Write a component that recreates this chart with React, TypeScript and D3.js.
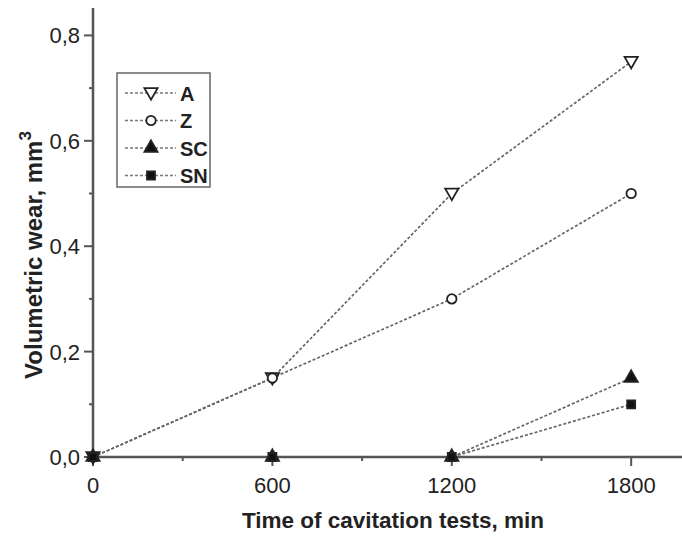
import React, { useRef, useEffect } from 'react';
import * as d3 from 'd3';

const times = [0, 600, 1200, 1800];
const seriesNames = ['A', 'Z', 'SC', 'SN'];
const valuesA = [0, 0.15, 0.5, 0.75];
const valuesZ = [0, 0.15, 0.3, 0.5];
const valuesSC = [0, 0, 0, 0.15];
const valuesSN = [0, 0, 0, 0.1];
const xTicks = [0, 600, 1200, 1800];
const yTicks = [0, 0.2, 0.4, 0.6, 0.8];

const App = () => {
  const svgRef = useRef<SVGSVGElement>(null);

  useEffect(() => {
    const svg = d3.select(svgRef.current);
    svg.selectAll('*').remove();

    const x = d3.scaleLinear().domain([0, 1970]).range([93, 682]);
    const y = d3.scaleLinear().domain([0, 0.852]).range([457, 8]);
    const axisColor = '#555';
    const font = 'Liberation Sans, Arial, sans-serif';

    const series = [
      { name: seriesNames[0], values: valuesA, symbol: d3.symbolTriangle, fill: 'white', rot: 180, size: 75 },
      { name: seriesNames[1], values: valuesZ, symbol: d3.symbolCircle, fill: 'white', rot: 0, size: 70 },
      { name: seriesNames[2], values: valuesSC, symbol: d3.symbolTriangle, fill: '#111', rot: 0, size: 75 },
      { name: seriesNames[3], values: valuesSN, symbol: d3.symbolSquare, fill: '#111', rot: 0, size: 64 },
    ];

    const line = d3.line<[number, number]>()
      .x(d => x(d[0]))
      .y(d => y(d[1]));

    // dashed lines
    series.forEach(s => {
      svg.append('path')
        .datum(times.map((t, i) => [t, s.values[i]] as [number, number]))
        .attr('d', line)
        .attr('fill', 'none')
        .attr('stroke', '#666')
        .attr('stroke-width', 1.7)
        .attr('stroke-dasharray', '3,2');
    });

    // axes
    const g = svg.append('g').attr('stroke', axisColor).attr('stroke-width', 2.5);
    g.append('line').attr('x1', x(0) - 1).attr('x2', 682).attr('y1', y(0)).attr('y2', y(0));
    g.append('line').attr('x1', x(0)).attr('x2', x(0)).attr('y1', y(0)).attr('y2', 8);

    xTicks.forEach(t => {
      g.append('line').attr('x1', x(t)).attr('x2', x(t)).attr('y1', y(0)).attr('y2', y(0) + 9).attr('stroke-width', 2);
      svg.append('text').attr('x', x(t)).attr('y', 493).attr('text-anchor', 'middle')
        .attr('font-family', font).attr('font-size', 22).attr('fill', '#222').text(String(t));
    });
    [300, 900, 1500].forEach(t => {
      g.append('line').attr('x1', x(t)).attr('x2', x(t)).attr('y1', y(0)).attr('y2', y(0) + 4).attr('stroke-width', 2);
    });
    yTicks.forEach(t => {
      g.append('line').attr('x1', x(0) - 9).attr('x2', x(0)).attr('y1', y(t)).attr('y2', y(t)).attr('stroke-width', 2);
      svg.append('text').attr('x', 80).attr('y', y(t) + 8).attr('text-anchor', 'end')
        .attr('font-family', font).attr('font-size', 22).attr('fill', '#222').text(t.toFixed(1).replace('.', ','));
    });
    [0.1, 0.3, 0.5, 0.7].forEach(t => {
      g.append('line').attr('x1', x(0) - 4).attr('x2', x(0)).attr('y1', y(t)).attr('y2', y(t)).attr('stroke-width', 2);
    });

    // markers
    series.forEach(s => {
      svg.selectAll(null)
        .data(times.map((t, i) => [t, s.values[i]]))
        .enter().append('path')
        .attr('d', d3.symbol().type(s.symbol).size(s.size)())
        .attr('transform', d => `translate(${x(d[0])},${y(d[1]) + (s.rot ? -1 : 0)}) rotate(${s.rot})`)
        .attr('fill', s.fill)
        .attr('stroke', '#222')
        .attr('stroke-width', 1.8);
    });

    // axis titles
    svg.append('text').attr('x', 393).attr('y', 528).attr('text-anchor', 'middle')
      .attr('font-family', font).attr('font-size', 22.5).attr('font-weight', 'bold').attr('fill', '#222')
      .text('Time of cavitation tests, min');
    const yl = svg.append('text').attr('transform', 'translate(42,255) rotate(-90)').attr('text-anchor', 'middle')
      .attr('font-family', font).attr('font-size', 24).attr('font-weight', 'bold').attr('fill', '#222');
    yl.append('tspan').text('Volumetric wear, mm');
    yl.append('tspan').attr('dy', -11).attr('font-size', 17).text('3');

    // legend
    const lg = svg.append('g');
    lg.append('rect').attr('x', 117).attr('y', 73).attr('width', 93).attr('height', 114)
      .attr('fill', 'white').attr('stroke', '#666').attr('stroke-width', 1.5);
    series.forEach((s, i) => {
      const ly = 93 + i * 27.5;
      lg.append('line').attr('x1', 125).attr('x2', 176).attr('y1', ly).attr('y2', ly)
        .attr('stroke', '#777').attr('stroke-width', 1.5).attr('stroke-dasharray', '3,2');
      lg.append('path').attr('d', d3.symbol().type(s.symbol).size(s.size)())
        .attr('transform', `translate(151,${ly + (s.rot ? -1 : 0)}) rotate(${s.rot})`)
        .attr('fill', s.fill).attr('stroke', '#222').attr('stroke-width', 1.8);
      lg.append('text').attr('x', 180).attr('y', ly + 7.5).attr('font-family', font)
        .attr('font-size', 20).attr('font-weight', 'bold').attr('fill', '#222').text(s.name);
    });
  }, []);

  return (
    <svg ref={svgRef} width={682} height={538}
      style={{ position: 'absolute', left: 0, top: 0, background: 'white' }} />
  );
};

export default App;
